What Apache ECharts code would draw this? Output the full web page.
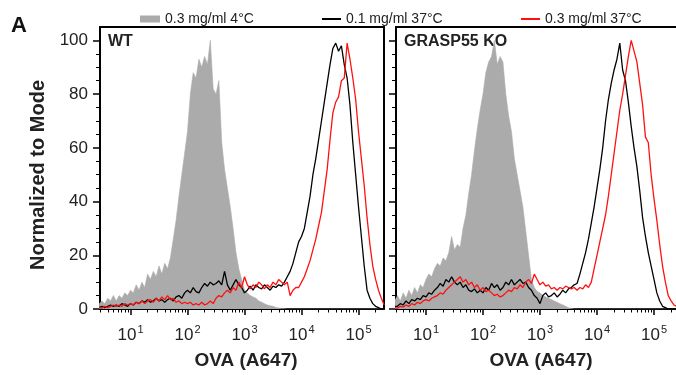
<!DOCTYPE html>
<html>
<head>
<meta charset="utf-8">
<script src="https://cdn.jsdelivr.net/npm/echarts@6/dist/echarts.min.js"></script>
<style>
html,body{margin:0;padding:0;background:#fff;}
#chart{width:676px;height:375px;}
</style>
</head>
<body>
<div id="chart"></div>
<script>
// log10 fluorescence bin positions
var bins = [
0.45,0.50,0.55,0.60,0.65,0.70,0.75,0.80,0.85,0.90,
0.95,1.00,1.05,1.10,1.15,1.20,1.25,1.30,1.35,1.40,
1.45,1.50,1.55,1.60,1.65,1.70,1.75,1.80,1.85,1.90,
1.95,2.00,2.05,2.10,2.15,2.20,2.25,2.30,2.35,2.40,
2.45,2.50,2.55,2.60,2.65,2.70,2.75,2.80,2.85,2.90,
2.95,3.00,3.05,3.10,3.15,3.20,3.25,3.30,3.35,3.40,
3.45,3.50,3.55,3.60,3.65,3.70,3.75,3.80,3.85,3.90,
3.95,4.00,4.05,4.10,4.15,4.20,4.25,4.30,4.35,4.40,
4.45,4.50,4.55,4.60,4.65,4.70,4.75,4.80,4.85,4.90,
4.95,5.00,5.05,5.10,5.15,5.20,5.25,5.30,5.35,5.40,
5.45];

var seriesNames = ['0.3 mg/ml 4°C', '0.1 mg/ml 37°C', '0.3 mg/ml 37°C'];
var panelNames = ['WT', 'GRASP55 KO'];

var wtGray = [
2,3,2,4,3,5,3,5,4,6,
5,7,6,9,7,10,8,13,11,14,
12,16,13,17,15,19,26,33,42,50,
58,66,80,88,86,93,90,94,91,100,
82,80,85,62,52,45,38,30,21,15,
11,7,6,5,4.5,4,3,2.5,2,1.5,
1.2,1,0.6,0.4,0.2,0.1,0,0,0,0,
0,0,0,0,0,0,0,0,0,0,
0,0,0,0,0,0,0,0,0,0,
0,0,0,0,0,0,0,0,0,0,
0];
var wtBlack = [
0.5,1,0.5,1,1.5,1,1.5,1,2,1.5,
1,2,1.5,2.5,2,3,2.5,3.5,2.5,3,
4,3,3.5,2.5,3.5,4,3,4.5,5,4,
6,7,6,8,6.5,6,8,9.5,8.5,10,
9,9.5,10.5,9,14,9,7,9,11,9,
8,6,7,8.5,7,9,8,7.5,9,8,
7,8.5,8,9,8.5,10,12,14,17,21,
25,27,30,36,42,50,56,63,70,77,
84,91,97,99,96,98,91,86,76,62,
50,38,27,16,7,4,2,1,0.5,0,
0];
var wtRed = [
0.5,0.3,1,0.5,1,1.5,1,1.5,1,2,
1.5,2,1.5,2.5,2,3,2,3,3.5,2.5,
4,3,4.5,3.5,5,3.5,4,2.5,3,2,
2.5,2,2.5,1.5,2,1.5,2.5,1.5,2,3,
2,4,5,4.5,6,7,6,8,7,10,
8,12,9,7.5,9,8,10,9,7.5,9,
8,10,9,11,10,9,10,5,7,8,
8,10,12,15,18,22,26,31,36,44,
52,63,73,77,79,85,86,99,93,86,
78,66,56,46,34,24,16,11,7,4,
1.5];
var koGray = [
3,5,3,6,4,7,5,8,6,9,
8,11,13,12,15,17,16,19,18,21,
27,22,24,23,30,35,43,50,59,67,
74,80,88,92,94,100,91,94,92,80,
72,66,56,50,44,38,29,20,11,8,
6.5,6,5,4.5,4,3.5,3,2.5,2,1.5,
1,0.5,0.2,0,0,0,0,0,0,0,
0,0,0,0,0,0,0,0,0,0,
0,0,0,0,0,0,0,0,0,0,
0,0,0,0,0,0,0,0,0,0,
0];
var koBlack = [
1,1,2,1.5,3,2,3.5,3,4,3.5,
5,4.5,6,5.5,7,8,9.5,8.5,11,10,
12,10,9,10,8,9,7,6.5,7.5,6,
7,6,8,7,9.5,8,9,7,8,10,
9,11,9,10,11,9.5,10,8,7,5,
4,2,5,6,4.5,5,6,4.5,5.5,7,
6,7.5,8,9,9.5,13,17,21,26,32,
38,45,52,60,70,78,84,89,93,99,
89,85,77,68,60,53,44,34,27,21,
16,11,6,3,1,0.5,0,0,0,0,
0];
var koRed = [
0.5,0.3,1,0.8,1.5,1,2,1.5,2.5,2,
3,3.5,3,4,4.5,5,6,5.5,7,8,
9,10,11,12,10,11,9,10,8,9,
7,8,6.5,7,6,5,5.5,4.5,5,6,
7,6.5,8,7.5,9,8,10,11,9.5,13,
11,9,10,8.5,9,7.5,8,7,8,7.5,
8.5,8,7.5,8,7,8,7.5,9,8,10,
15,20,25,30,35,42,50,58,66,74,
80,87,94,100,96,92,84,76,64,62,
50,41,33,24,16,10,5,3,1.5,1,
0.5];

// axis ticks
var xMajorTicks = [1, 2, 3, 4, 5];
var xMinorMultipliers = [2, 3, 4, 5, 6, 7, 8, 9];
var xDecades = [0, 1, 2, 3, 4, 5];
var yMajorTicks = [0, 20, 40, 60, 80, 100];
var yMinorTicks = [5, 10, 15, 25, 30, 35, 45, 50, 55, 65, 70, 75, 85, 90, 95];

var FONT = '"Liberation Sans", Arial, Helvetica, sans-serif';
var GRAY = '#ababab', BLACK = '#000000', RED = '#ff1010';

var xRanges = [[0.465, 5.447], [0.474, 5.386]];
var yMax = 105;

function minorTicksIn(r) {
  var out = [];
  xDecades.forEach(function (d) {
    xMinorMultipliers.forEach(function (m) {
      var v = d + Math.log10(m);
      if (v > r[0] && v < r[1]) out.push(v);
    });
  });
  return out;
}
function pairs(vals) {
  return bins.map(function (b, i) { return [b, vals[i]]; });
}

var grids = [
  {left: 100, top: 27, width: 284, height: 282},
  {left: 396, top: 27, width: 280, height: 282}
];

var xAxes = [], yAxes = [];
[0, 1].forEach(function (g) {
  var r = xRanges[g];
  xAxes.push({
    type: 'value', gridIndex: g, position: 'bottom', min: r[0], max: r[1],
    axisLine: {show: true, onZero: false, lineStyle: {color: '#000', width: 2}},
    axisTick: {show: true, inside: false, length: 6, customValues: xMajorTicks, lineStyle: {color: '#000', width: 1.5}},
    axisLabel: {
      show: true, margin: 15, customValues: xMajorTicks,
      formatter: function (v) { return '{b|10}{s|' + Math.round(v) + '}'; },
      rich: {
        b: {fontSize: 17, fontFamily: FONT, color: '#222', lineHeight: 22},
        s: {fontSize: 11, fontFamily: FONT, color: '#222', verticalAlign: 'top', lineHeight: 22, padding: [0, 0, 10, 1]}
      }
    },
    splitLine: {show: false}
  });
  xAxes.push({
    type: 'value', gridIndex: g, position: 'bottom', min: r[0], max: r[1],
    axisLine: {show: false},
    axisTick: {show: true, inside: false, length: 3.5, customValues: minorTicksIn(r), lineStyle: {color: '#000', width: 1}},
    axisLabel: {show: false},
    splitLine: {show: false}
  });
  xAxes.push({
    type: 'value', gridIndex: g, position: 'top', min: r[0], max: r[1],
    axisLine: {show: true, onZero: false, lineStyle: {color: '#000', width: 2}},
    axisTick: {show: false}, axisLabel: {show: false}, splitLine: {show: false}
  });
  yAxes.push({
    type: 'value', gridIndex: g, position: 'left', min: 0, max: yMax,
    axisLine: {show: true, onZero: false, lineStyle: {color: '#000', width: 2}},
    axisTick: {show: true, inside: false, length: 7, customValues: yMajorTicks, lineStyle: {color: '#000', width: 1.5}},
    axisLabel: {show: g === 0, margin: 12, customValues: yMajorTicks, fontSize: 17, fontFamily: FONT, color: '#222'},
    splitLine: {show: false}
  });
  yAxes.push({
    type: 'value', gridIndex: g, position: 'left', min: 0, max: yMax,
    axisLine: {show: false},
    axisTick: {show: true, inside: false, length: 4, customValues: yMinorTicks, lineStyle: {color: '#000', width: 1}},
    axisLabel: {show: false}, splitLine: {show: false}
  });
  if (g === 0) {
    yAxes.push({
      type: 'value', gridIndex: g, position: 'right', min: 0, max: yMax,
      axisLine: {show: true, onZero: false, lineStyle: {color: '#000', width: 2}},
      axisTick: {show: false}, axisLabel: {show: false}, splitLine: {show: false}
    });
  }
});

var panelData = [[wtGray, wtBlack, wtRed], [koGray, koBlack, koRed]];
var xMainIdx = [0, 3], yMainIdx = [0, 3];
var series = [];
[0, 1].forEach(function (g) {
  var d = panelData[g];
  series.push({
    name: seriesNames[0], type: 'line', xAxisIndex: xMainIdx[g], yAxisIndex: yMainIdx[g],
    data: pairs(d[0]), symbol: 'none', color: GRAY,
    lineStyle: {color: GRAY, width: 0.6}, areaStyle: {color: GRAY, opacity: 1},
    animation: false, z: 2
  });
  series.push({
    name: seriesNames[1], type: 'line', xAxisIndex: xMainIdx[g], yAxisIndex: yMainIdx[g],
    data: pairs(d[1]), symbol: 'none', color: BLACK,
    lineStyle: {color: BLACK, width: 1.3}, animation: false, z: 3
  });
  series.push({
    name: seriesNames[2], type: 'line', xAxisIndex: xMainIdx[g], yAxisIndex: yMainIdx[g],
    data: pairs(d[2]), symbol: 'none', color: RED,
    lineStyle: {color: RED, width: 1.3}, animation: false, z: 4
  });
});

var legendLefts = [135, 317, 516];
var legendIconH = [7, 2, 2];
var legends = seriesNames.map(function (n, i) {
  return {
    left: legendLefts[i], top: 7, orient: 'horizontal',
    data: [{name: n, icon: 'rect'}],
    itemWidth: i === 0 ? 20 : 19, itemHeight: legendIconH[i], itemGap: 0,
    textStyle: {fontSize: 14, fontFamily: FONT, color: '#222'},
    selectedMode: false
  };
});

var option = {
  backgroundColor: '#ffffff',
  animation: false,
  grid: grids,
  xAxis: xAxes,
  yAxis: yAxes,
  legend: legends,
  series: series,
  graphic: [
    {type: 'text', left: 11, top: 15, style: {text: 'A', font: 'bold 22px ' + FONT, fill: '#111'}},
    {type: 'text', x: 108, y: 42, style: {text: panelNames[0], font: 'bold 16px ' + FONT, fill: '#222', textVerticalAlign: 'middle'}},
    {type: 'text', x: 404, y: 42, style: {text: panelNames[1], font: 'bold 16px ' + FONT, fill: '#222', textVerticalAlign: 'middle'}},
    {type: 'text', x: 38, y: 175, rotation: Math.PI / 2,
     style: {text: 'Normalized to Mode', font: 'bold 20px ' + FONT, fill: '#222', textAlign: 'center', textVerticalAlign: 'middle'}},
    {type: 'text', x: 246, y: 361, style: {text: 'OVA (A647)', font: 'bold 19px ' + FONT, fill: '#222', textAlign: 'center', textVerticalAlign: 'middle'}},
    {type: 'text', x: 541, y: 361, style: {text: 'OVA (A647)', font: 'bold 19px ' + FONT, fill: '#222', textAlign: 'center', textVerticalAlign: 'middle'}}
  ]
};

var chart = echarts.init(document.getElementById('chart'), null, {renderer: 'canvas'});
chart.setOption(option);
</script>
</body>
</html>
